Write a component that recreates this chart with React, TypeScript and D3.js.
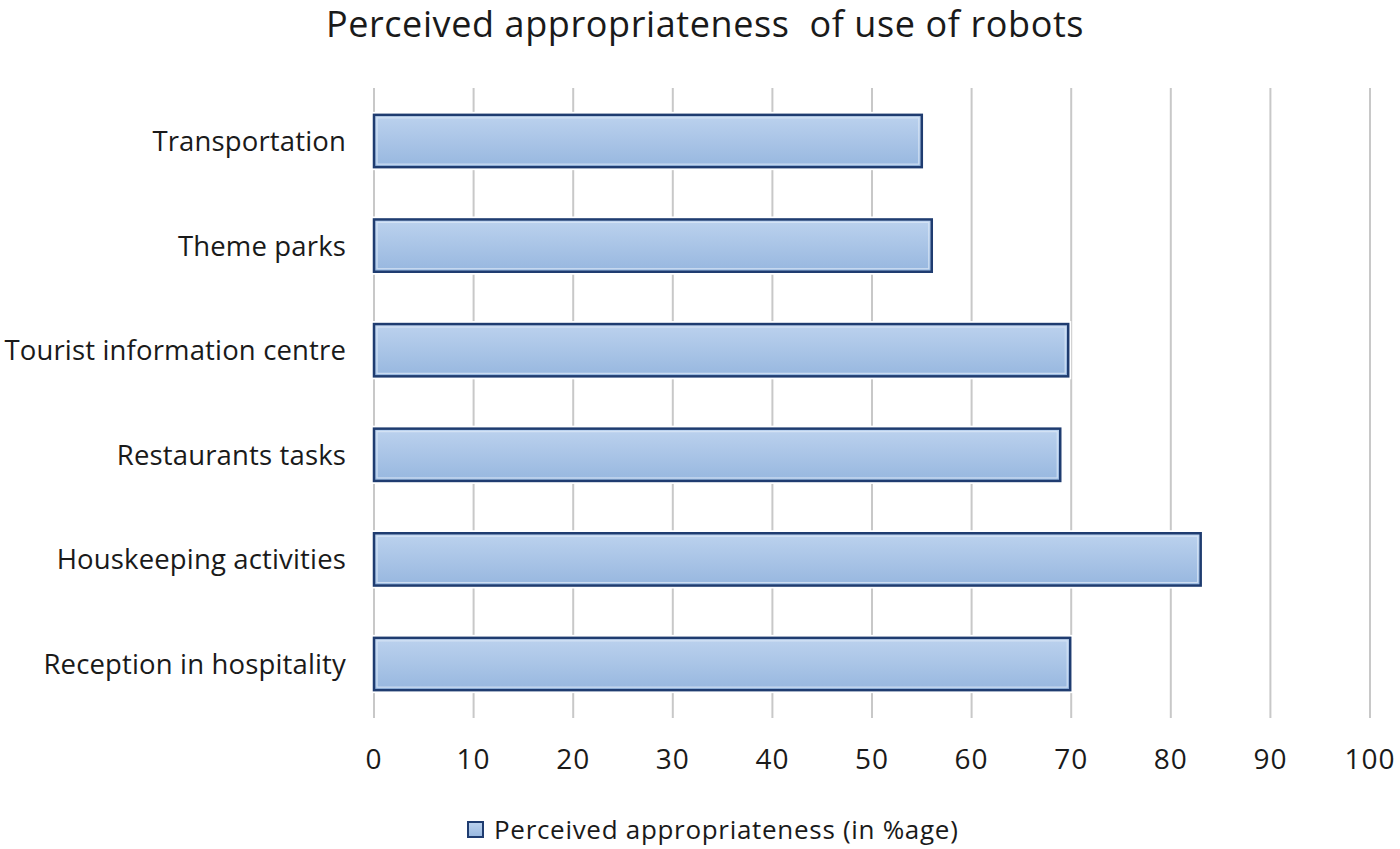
import React from "react";
import * as d3 from "d3";

const categories = [
  "Transportation",
  "Theme parks",
  "Tourist information centre",
  "Restaurants tasks",
  "Houskeeping activities",
  "Reception in hospitality",
];
const values = [55, 56, 69.7, 68.9, 83, 69.9];
const xTicks = [0, 10, 20, 30, 40, 50, 60, 70, 80, 90, 100];
const title = "Perceived appropriateness  of use of robots";
const legendLabel = "Perceived appropriateness (in %age)";

const W = 1400;
const H = 849;
const FONT = "'Open Sans', 'Noto Sans', sans-serif";

export default function App() {
  const x = d3.scaleLinear().domain([0, 100]).range([374, 1370]);
  const y = d3
    .scaleBand<string>()
    .domain(categories)
    .range([88.7, 716.3])
    .paddingInner(0.5)
    .paddingOuter(0.25);

  return (
    <svg
      width={W}
      height={H}
      style={{ position: "absolute", left: 0, top: 0, background: "#fff" }}
      fontFamily={FONT}
    >
      <defs>
        <linearGradient id="barGrad" x1="0" y1="0" x2="0" y2="1">
          <stop offset="0%" stopColor="#bcd2ee" />
          <stop offset="100%" stopColor="#97b7df" />
        </linearGradient>
      </defs>
      <rect width={W} height={H} fill="#fff" />
      <text
        x={705}
        y={37}
        textAnchor="middle"
        fontSize={36}
        letterSpacing={0.6}
        fill="#1a1a1a"
        style={{ whiteSpace: "pre" }}
      >
        {title}
      </text>
      {xTicks.map((t) => (
        <line
          key={t}
          x1={x(t)}
          x2={x(t)}
          y1={88}
          y2={718}
          stroke="#c8c8c8"
          strokeWidth={2}
        />
      ))}
      {categories.map((c, i) => {
        const y0 = y(c)!;
        const bw = y.bandwidth();
        return (
          <g key={c}>
            <rect
              x={x(0) - 3}
              y={y0 - 3}
              width={x(values[i]) - x(0) + 6}
              height={bw + 6}
              fill="#fff"
            />
            <rect
              x={x(0)}
              y={y0}
              width={x(values[i]) - x(0)}
              height={bw}
              fill="url(#barGrad)"
              stroke="#1f3c70"
              strokeWidth={2.5}
            />
            <rect
              x={x(0) + 3}
              y={y0 + 3}
              width={x(values[i]) - x(0) - 6}
              height={bw - 6}
              fill="none"
              stroke="#dbe7f6"
              strokeWidth={1.2}
              opacity={0.8}
            />
            <text
              x={346}
              y={y0 + bw / 2 + 10}
              textAnchor="end"
              fontSize={27.5}
              letterSpacing={0.15}
              fill="#1a1a1a"
            >
              {c}
            </text>
          </g>
        );
      })}
      {xTicks.map((t) => (
        <text
          key={"l" + t}
          x={x(t)}
          y={769}
          textAnchor="middle"
          fontSize={28}
          letterSpacing={1}
          fill="#1a1a1a"
        >
          {t}
        </text>
      ))}
      <rect
        x={468}
        y={822}
        width={15}
        height={15}
        fill="url(#barGrad)"
        stroke="#1f3c70"
        strokeWidth={2}
      />
      <text x={494} y={839} fontSize={26} letterSpacing={0.7} fill="#1a1a1a">
        {legendLabel}
      </text>
    </svg>
  );
}
